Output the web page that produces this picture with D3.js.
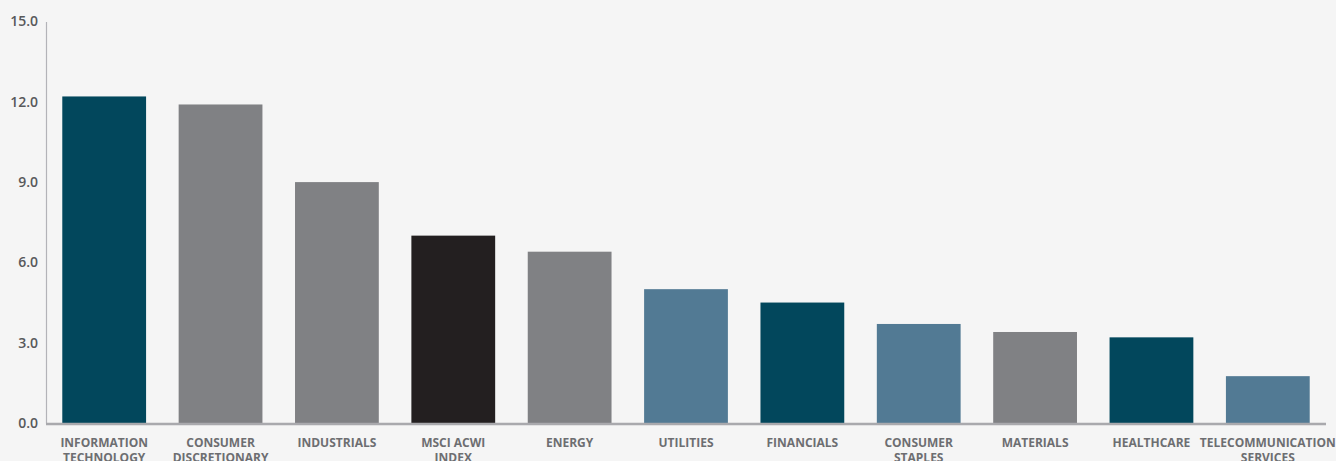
<!DOCTYPE html>
<html>
<head>
<meta charset="utf-8">
<script src="https://cdn.jsdelivr.net/npm/d3@7"></script>
<style>
  html, body { margin: 0; padding: 0; background: #f5f5f5; }
  svg { display: block; }
  .tick text { font-family: "Open Sans", sans-serif; }
</style>
</head>
<body>
<script>
// Data
var categories = [
  ["INFORMATION", "TECHNOLOGY"],
  ["CONSUMER", "DISCRETIONARY"],
  ["INDUSTRIALS"],
  ["MSCI ACWI", "INDEX"],
  ["ENERGY"],
  ["UTILITIES"],
  ["FINANCIALS"],
  ["CONSUMER", "STAPLES"],
  ["MATERIALS"],
  ["HEALTHCARE"],
  ["TELECOMMUNICATION", "SERVICES"]
];
var values = [12.2, 11.9, 9.0, 7.0, 6.4, 5.0, 4.5, 3.7, 3.4, 3.2, 1.75];
var groups = ["teal", "grey", "grey", "index", "grey", "blue", "teal", "blue", "grey", "teal", "blue"];
var yTicks = [0, 3, 6, 9, 12, 15];

function init(){
  var width = 1336, height = 461;
  var margin = {top: 21.5, right: 10, bottom: 38, left: 46};

  var svg = d3.select("body")
              .append("svg")
              .attr("width", width)
              .attr("height", height);

  var x = d3.scaleBand()
            .domain(d3.range(categories.length))
            .range([margin.left, width - margin.right])
            .paddingInner(0.28)
            .paddingOuter(0.14);

  var y = d3.scaleLinear()
            .domain([0, 15])
            .range([height - margin.bottom, margin.top]);

  var color = d3.scaleOrdinal()
                .domain(["teal", "grey", "index", "blue"])
                .range(["#02475c", "#808184", "#231f20", "#527a94"]);

  // y axis
  var yAxis = svg.append("g")
                 .attr("transform", "translate(" + margin.left + ",0)")
                 .call(d3.axisLeft(y).tickValues(yTicks).tickFormat(d3.format(".1f")).tickSize(0).tickPadding(8));
  yAxis.select(".domain").attr("stroke", "#b3b3b8").attr("stroke-width", 1.2);
  yAxis.selectAll("text")
       .attr("fill", "#58595b")
       .style("font-size", "14px")
       .style("font-weight", "600");

  // bars
  svg.selectAll(".bar")
     .data(values)
     .enter()
     .append("rect")
     .attr("class", "bar")
     .attr("x", function(d, i) { return x(i); })
     .attr("y", function(d) { return y(d); })
     .attr("width", x.bandwidth())
     .attr("height", function(d) { return y(0) - y(d); })
     .attr("fill", function(d, i) { return color(groups[i]); });

  // baseline
  svg.append("line")
     .attr("x1", margin.left)
     .attr("x2", width - margin.right)
     .attr("y1", y(0) + 1)
     .attr("y2", y(0) + 1)
     .attr("stroke", "#a9a9ad")
     .attr("stroke-width", 2.5);

  // category labels
  var labels = svg.selectAll(".cat")
                  .data(categories)
                  .enter()
                  .append("text")
                  .attr("class", "cat")
                  .attr("text-anchor", "middle")
                  .attr("x", function(d, i) { return x(i) + x.bandwidth() / 2; })
                  .attr("y", y(0) + 24)
                  .attr("fill", "#6d6e71")
                  .style("font-family", "'Open Sans', sans-serif")
                  .style("font-size", "12px")
                  .style("font-weight", "700");
  labels.selectAll("tspan")
        .data(function(d) { return d; })
        .enter()
        .append("tspan")
        .attr("x", function() { return d3.select(this.parentNode).attr("x"); })
        .attr("dy", function(d, i) { return i ? 15 : 0; })
        .text(function(d) { return d; });
}

init();
</script>
</body>
</html>
